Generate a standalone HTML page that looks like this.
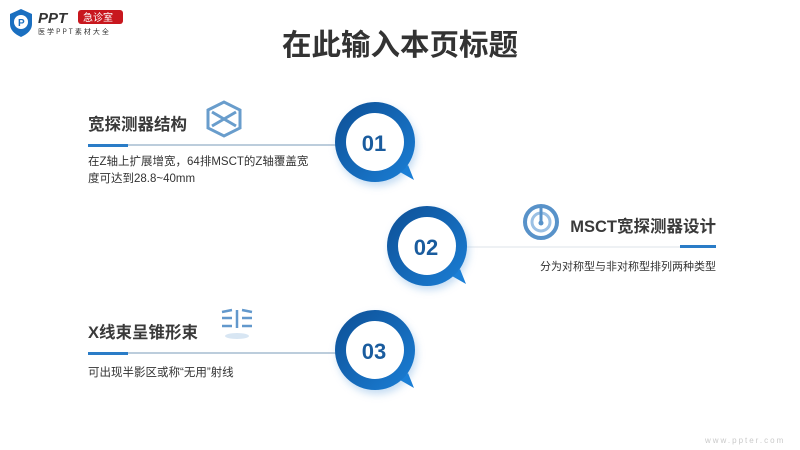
<!DOCTYPE html>
<html><head><meta charset="utf-8"><style>
body{margin:0;width:800px;height:450px;background:#fff;position:relative;overflow:hidden;font-family:"Liberation Sans","Noto Sans CJK SC",sans-serif;}
.a{position:absolute;white-space:nowrap;}
.h{font-size:16.5px;font-weight:bold;color:#3a3a3a;}
.t{font-size:11.5px;color:#333;line-height:17px;}
</style></head><body>
<svg width="800" height="450" style="position:absolute;left:0;top:0">
<defs>
<linearGradient id="g" x1="0" y1="0" x2="1" y2="1"><stop offset="0" stop-color="#0d4f95"/><stop offset="1" stop-color="#1b7fd6"/></linearGradient>
<filter id="s" x="-50%" y="-50%" width="200%" height="200%"><feGaussianBlur stdDeviation="4"/></filter>
</defs>
<path d="M10 14 L21 9 L32 14 L32 24 Q32 32 21 37 Q10 32 10 24 Z" fill="#1a6fc0"/>
<circle cx="21" cy="22" r="7" fill="#fff"/>
<text x="18" y="26" font-size="10" font-weight="bold" fill="#1a6fc0" font-family="Liberation Sans">P</text>
<text x="38" y="23" font-size="15" font-weight="bold" font-style="italic" fill="#333" font-family="Liberation Sans">PPT</text>
<rect x="78" y="10" width="45" height="14" rx="3" fill="#c8171e"/>
<text x="83" y="21" font-size="10" fill="#fff" font-family="Noto Sans CJK SC">急诊室</text>
<text x="38" y="34" font-size="7" fill="#333" font-family="Noto Sans CJK SC" letter-spacing="2">医学PPT素材大全</text>
<line x1="88" y1="145" x2="340" y2="145" stroke="#7a9bb8" stroke-width="1"/>
<rect x="88" y="144" width="40" height="3" fill="#2a7cc7"/>
<line x1="460" y1="247" x2="716" y2="247" stroke="#dde3ea" stroke-width="1"/>
<rect x="680" y="245" width="36" height="3" fill="#2a7cc7"/>
<line x1="88" y1="353" x2="340" y2="353" stroke="#7a9bb8" stroke-width="1"/>
<rect x="88" y="352" width="40" height="3" fill="#2a7cc7"/>
<g>
<circle cx="377" cy="146" r="40" fill="#9cc4ea" filter="url(#s)" opacity=".6"/>
<path d="M400 172 L414 180 L408 165 Z" fill="#1b7fd6"/>
<circle cx="375" cy="142" r="40" fill="url(#g)"/>
<circle cx="375" cy="142" r="29" fill="#fff"/>
<text x="374" y="151" font-size="22" font-weight="bold" fill="#1a5c9e" text-anchor="middle" font-family="Liberation Sans">01</text>
</g>
<g>
<circle cx="429" cy="250" r="40" fill="#9cc4ea" filter="url(#s)" opacity=".6"/>
<path d="M452 276 L466 284 L460 269 Z" fill="#1b7fd6"/>
<circle cx="427" cy="246" r="40" fill="url(#g)"/>
<circle cx="427" cy="246" r="29" fill="#fff"/>
<text x="426" y="255" font-size="22" font-weight="bold" fill="#1a5c9e" text-anchor="middle" font-family="Liberation Sans">02</text>
</g>
<g>
<circle cx="377" cy="354" r="40" fill="#9cc4ea" filter="url(#s)" opacity=".6"/>
<path d="M400 380 L414 388 L408 373 Z" fill="#1b7fd6"/>
<circle cx="375" cy="350" r="40" fill="url(#g)"/>
<circle cx="375" cy="350" r="29" fill="#fff"/>
<text x="374" y="359" font-size="22" font-weight="bold" fill="#1a5c9e" text-anchor="middle" font-family="Liberation Sans">03</text>
</g>
<g fill="none" stroke="#4f8cc4" stroke-width="3" opacity=".85">
<path d="M208 110 L224 102 L240 110 L240 128 L224 136 L208 128 Z"/>
<path d="M212 112 L236 126 M236 112 L212 126"/>
</g>
<g opacity=".85">
<circle cx="541" cy="222" r="16" fill="none" stroke="#3b7fc0" stroke-width="4"/>
<circle cx="541" cy="222" r="9" fill="none" stroke="#8ab6e0" stroke-width="3"/>
<line x1="541" y1="206" x2="541" y2="222" stroke="#3b7fc0" stroke-width="3"/>
<circle cx="541" cy="223" r="2.5" fill="#3b7fc0"/>
</g>
<g stroke="#3b7fc0" stroke-width="2.5" fill="none" opacity=".8">
<line x1="237" y1="310" x2="237" y2="328"/>
<path d="M222 312 L232 310 M222 318 L232 318 M222 326 L232 326"/>
<path d="M242 310 L252 312 M242 318 L252 318 M242 326 L252 326"/>
</g>
<ellipse cx="237" cy="336" rx="12" ry="3" fill="#d8e6f3"/>
<text x="705" y="443" font-size="8" fill="#c9c9c9" font-family="Liberation Sans" letter-spacing="2">www.ppter.com</text>
</svg>
<div class="a" style="left:0;width:800px;top:22px;text-align:center;font-size:29.5px;font-weight:bold;color:#333;">在此输入本页标题</div>
<div class="a h" style="left:88px;top:111px;">宽探测器结构</div>
<div class="a t" style="left:88px;top:154px;">在Z轴上扩展增宽，64排MSCT的Z轴覆盖宽<br>度可达到28.8~40mm</div>
<div class="a h" style="right:84px;top:213px;">MSCT宽探测器设计</div>
<div class="a t" style="right:84px;top:259px;font-size:11px;">分为对称型与非对称型排列两种类型</div>
<div class="a h" style="left:88px;top:319px;">X线束呈锥形束</div>
<div class="a t" style="left:88px;top:365px;">可出现半影区或称“无用”射线</div>
</body></html>
